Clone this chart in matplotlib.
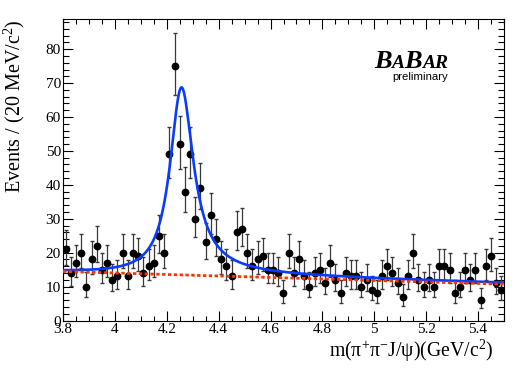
import numpy as np
import matplotlib
matplotlib.use('Agg')
import matplotlib.pyplot as plt
from matplotlib.ticker import MultipleLocator, FuncFormatter
from matplotlib.offsetbox import TextArea, HPacker, VPacker, AnchoredOffsetbox

plt.rcParams['font.family'] = ['Liberation Serif', 'DejaVu Serif']
plt.rcParams['mathtext.fontset'] = 'custom'
plt.rcParams['mathtext.rm'] = 'Liberation Serif'
plt.rcParams['mathtext.it'] = 'Liberation Serif:italic'

# histogram: 20 MeV bins from 3.8 to 5.5 GeV
bin_lo = 3.8
bin_width = 0.02
counts = [21, 14, 17, 20, 10, 18, 22, 15, 17, 12,
          13, 20, 13, 20, 19, 14, 16, 17, 25, 20,
          49, 75, 52, 38, 49, 30, 39, 23, 31, 24,
          18, 16, 13, 26, 27, 20, 16, 18, 19, 15,
          15, 14, 8, 20, 14, 18, 13, 10, 14, 15,
          11, 17, 12, 8, 14, 13, 13, 10, 12, 9,
          8, 13, 16, 14, 11, 7, 13, 20, 12, 10,
          12, 10, 16, 16, 15, 8, 10, 15, 12, 15,
          6, 16, 19, 11, 9]

# fit result (signal + linear background)
m0 = 4.257
gamma0 = 0.110
amp = 55.3
bkg_at_lo = 14.45
bkg_slope = -2.2

counts = np.array(counts, dtype=float)
centers = bin_lo + bin_width * (np.arange(len(counts)) + 0.5)
err_lo = np.sqrt(counts - 0.25)
err_hi = np.sqrt(counts + 0.75) + 1.0

fig = plt.figure(figsize=(5.31, 3.82), dpi=100)
ax = fig.add_axes([63/531, 1 - 320.5/382, (504 - 63)/531, (320.5 - 19)/382])

line, caps, bars = ax.errorbar(centers, counts, yerr=[err_lo, err_hi], fmt='o', color='black',
                               ms=4.6, ecolor='#3a3a3a', elinewidth=0.9, capsize=1.2, zorder=3)
for c in caps:
    c.set_color('black')

m = np.linspace(3.8, 5.5, 800)
bkg = bkg_at_lo + bkg_slope * (m - bin_lo)
g = gamma0 * (m / m0) ** 3 / 2
sig = amp * g**2 / ((m - m0)**2 + g**2)
ax.plot(m, bkg + sig, color='#0a3cff', lw=1.9, zorder=4)
ax.plot(m, bkg, color='#ff3300', lw=2.0, ls=(0, (1.2, 0.9)), zorder=4)

ax.set_xlim(3.8, 5.5)
ax.set_ylim(0, 88.9)
ax.xaxis.set_major_locator(MultipleLocator(0.2))
ax.xaxis.set_minor_locator(MultipleLocator(0.05))
ax.yaxis.set_major_locator(MultipleLocator(10))
ax.yaxis.set_minor_locator(MultipleLocator(2))
ax.xaxis.set_major_formatter(FuncFormatter(lambda v, p: '%g' % round(v, 3)))
ax.tick_params(which='both', direction='in', top=True, right=True, labelsize=11, width=0.8)
ax.tick_params(axis='x', which='major', length=7, pad=2)
ax.tick_params(axis='x', which='minor', length=3.6)
ax.tick_params(axis='y', which='major', length=7.5, pad=1.5)
ax.tick_params(axis='y', which='minor', length=4)
for s in ax.spines.values():
    s.set_linewidth(0.8)

fig.text(14/531, 1 - 19/382, 'Events / (20 MeV/c$^{2}$)', fontsize=14.5, rotation=90,
         ha='center', va='top')
fig.text(493/531, 1 - 351/382, 'm(π$^{+}$π$^{-}$J/ψ)(GeV/c$^{2}$)', fontsize=14.2,
         ha='right', va='center')

big = dict(family='Liberation Serif', style='italic', weight='bold', size=19)
small = dict(family='Liberation Serif', style='italic', weight='bold', size=14)
logo = HPacker(children=[TextArea('B', textprops=big), TextArea('A', textprops=small),
                         TextArea('B', textprops=big), TextArea('AR', textprops=small)],
               align='baseline', pad=0, sep=0)
prelim = TextArea('preliminary', textprops=dict(family='Liberation Sans', size=8.2))
box = VPacker(children=[logo, prelim], align='right', pad=0, sep=-1)
ab = AnchoredOffsetbox(loc='center', child=box, bbox_to_anchor=(411/531, 1 - 66/382),
                       bbox_transform=fig.transFigure, frameon=False, pad=0, borderpad=0)
fig.add_artist(ab)

fig.savefig('out.png', dpi=100)
